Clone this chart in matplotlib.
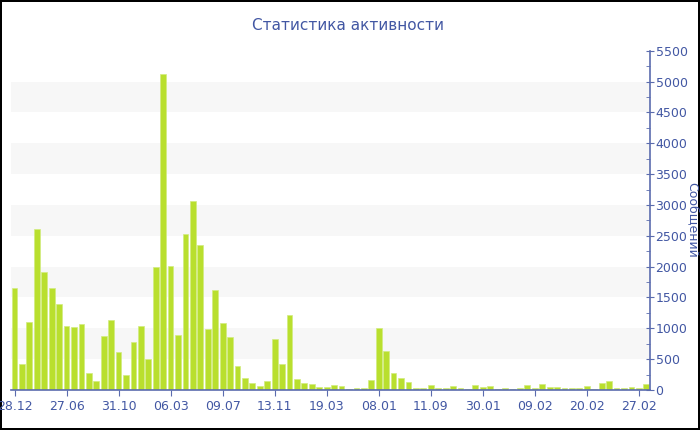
import matplotlib.pyplot as plt
import numpy as np

title = 'Статистика активности'
ylabel = 'Сообщений'

# messages per period
values = [1658, 416, 1107, 2603, 1906, 1647, 1393, 1037, 1026, 1064,
          270, 151, 880, 1134, 621, 243, 770, 1037, 497, 1987,
          5130, 2009, 886, 2533, 3062, 2344, 983, 1620, 1091, 853,
          389, 195, 113, 70, 140, 826, 416, 1220, 184, 113,
          103, 54, 49, 81, 65, 22, 27, 25, 167, 1004,
          637, 270, 194, 130, 27, 32, 76, 32, 32, 59,
          32, 16, 76, 54, 65, 22, 32, 22, 38, 81,
          27, 97, 49, 43, 38, 32, 32, 59, 22, 108,
          140, 32, 38, 49, 27, 97]
tick_labels = ['28.12', '27.06', '31.10', '06.03', '09.07', '13.11', '19.03',
               '08.01', '11.09', '30.01', '09.02', '20.02', '27.02']
tick_step = 7

text_col = '#4257a3'
axis_col = '#5b6cae'
bar_col = '#b9df2e'

fig = plt.figure(figsize=(7, 4.3), dpi=100)
fig.patch.set_edgecolor('black')
fig.patch.set_linewidth(1.5)
ax = fig.add_axes([10.8 / 700, 40 / 430, (650 - 10.8) / 700, (390 - 50.7) / 430])

# alternating light bands
for lo in range(500, 5500, 1000):
    ax.axhspan(lo, lo + 500, color='#f7f7f7', zorder=0, lw=0)

x = np.arange(len(values))
ax.bar(x, values, width=0.78, color=bar_col, edgecolor='#d2ec80', linewidth=0.5, zorder=2)

ax.set_xlim(-0.5, len(values) - 0.5)
ax.set_ylim(0, 5500)

ax.set_xticks(x[::tick_step][:len(tick_labels)])
ax.set_xticklabels(tick_labels)
ax.set_yticks(np.arange(0, 5501, 500))
ax.set_yticks(np.arange(250, 5500, 500), minor=True)

ax.yaxis.tick_right()
ax.yaxis.set_label_position('right')
for s in ['top', 'left']:
    ax.spines[s].set_visible(False)
for s in ['right', 'bottom']:
    ax.spines[s].set_color(axis_col)
    ax.spines[s].set_linewidth(1.2)

ax.tick_params(axis='y', which='major', direction='inout', length=6, color=axis_col,
               labelcolor=text_col, labelsize=9, pad=1)
ax.tick_params(axis='y', which='minor', direction='in', length=3, color=axis_col)
ax.tick_params(axis='x', direction='out', length=4, color=axis_col,
               labelcolor=text_col, labelsize=9, pad=3)

ax.set_ylabel(ylabel, rotation=-90, color=text_col, fontsize=9, va='center')
ax.yaxis.set_label_coords((692 - 10.8) / 639.2, 0.5)

fig.text(348 / 700, 1 - 25 / 430, title, ha='center', va='center',
         color=text_col, fontsize=11)

fig.savefig('out.png', dpi=100)
